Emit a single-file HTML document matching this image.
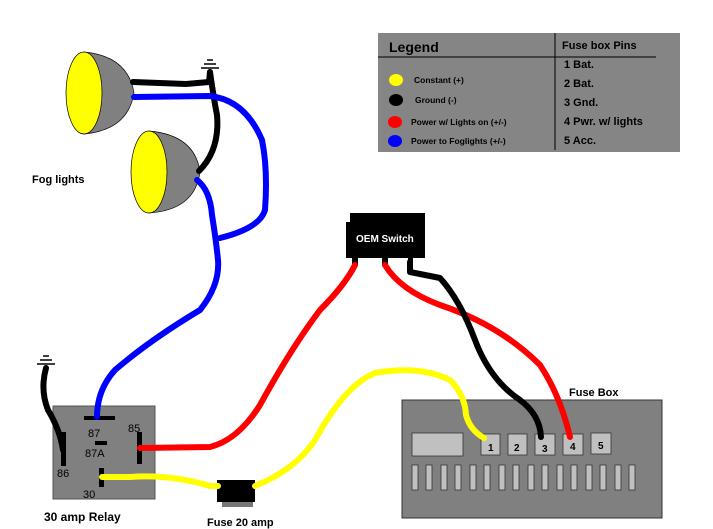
<!DOCTYPE html>
<html><head><meta charset="utf-8"><style>
html,body{margin:0;padding:0;background:#fff;}
svg{display:block;}
text{font-family:"Liberation Sans",sans-serif;}
.b{font-weight:bold;}
</style></head><body>
<svg width="713" height="529" viewBox="0 0 713 529" xmlns="http://www.w3.org/2000/svg">
<rect width="713" height="529" fill="#fff"/>
<!-- Legend -->
<rect x="378" y="33" width="302" height="119" fill="#858585"/>
<line x1="555" y1="33" x2="555" y2="150" stroke="#000" stroke-width="1"/>
<line x1="378" y1="57" x2="656" y2="57" stroke="#000" stroke-width="1"/>
<text x="389" y="52" class="b" font-size="14">Legend</text>
<text x="562" y="49" class="b" font-size="11">Fuse box Pins</text>
<g font-size="11" font-weight="bold">
<text x="564" y="68">1 Bat.</text>
<text x="564" y="87">2 Bat.</text>
<text x="564" y="106">3 Gnd.</text>
<text x="564" y="125">4 Pwr. w/ lights</text>
<text x="564" y="144">5 Acc.</text>
</g>
<g font-size="8.5" font-weight="bold">
<text x="414" y="83">Constant (+)</text>
<text x="415" y="103">Ground (-)</text>
<text x="411" y="125">Power w/ Lights on (+/-)</text>
<text x="411" y="144">Power to Foglights (+/-)</text>
</g>
<ellipse cx="396" cy="80" rx="7" ry="6" fill="#ffff00"/>
<ellipse cx="396" cy="100" rx="7" ry="6" fill="#000"/>
<ellipse cx="395" cy="122" rx="7" ry="6" fill="#f00"/>
<ellipse cx="395" cy="141" rx="7" ry="6" fill="#0000ff"/>

<!-- Fog lights -->
<path d="M84 52 Q128 56 134 93 Q128 130 84 134 Z" fill="#808080" stroke="#000" stroke-width="0.7"/>
<ellipse cx="84" cy="93" rx="18" ry="41" fill="#ffff00" stroke="#000" stroke-width="0.7"/>
<path d="M149 131 Q195 135 200 172 Q195 210 149 213 Z" fill="#808080" stroke="#000" stroke-width="0.7"/>
<ellipse cx="149" cy="172" rx="18" ry="41" fill="#ffff00" stroke="#000" stroke-width="0.7"/>
<text x="32" y="183" class="b" font-size="11">Fog lights</text>

<!-- Relay box -->
<rect x="53" y="406" width="102" height="93" fill="#808080" stroke="#555" stroke-width="1"/>
<g fill="#000">
<rect x="84" y="416" width="31" height="4"/>
<rect x="61" y="432" width="5" height="34"/>
<rect x="137" y="432" width="5" height="32"/>
<rect x="95" y="441" width="12" height="4"/>
<rect x="99" y="468" width="5" height="19"/>
</g>
<g font-size="11" fill="#000">
<text x="88" y="437">87</text><text x="128" y="432">85</text><text x="85" y="457">87A</text>
<text x="57" y="477">86</text><text x="83" y="498">30</text>
</g>
<text x="44" y="521" class="b" font-size="12">30 amp Relay</text>
<!-- Fuse -->
<rect x="217" y="480" width="38" height="22" fill="#000"/>
<rect x="222" y="502" width="31" height="5" fill="#777"/>
<text x="207" y="526" class="b" font-size="11">Fuse 20 amp</text>

<!-- OEM switch -->
<rect x="350" y="213" width="75" height="10" fill="#000"/>
<rect x="346" y="222" width="79" height="36" fill="#000"/>
<rect x="352" y="256" width="6" height="10" fill="#000"/>
<rect x="382" y="256" width="6" height="10" fill="#000"/>
<rect x="408" y="256" width="5" height="10" fill="#000"/>
<text x="356" y="242" class="b" font-size="10" fill="#fff">OEM Switch</text>

<!-- Fuse box -->
<text x="569" y="396" class="b" font-size="11">Fuse Box</text>
<rect x="402" y="400" width="260" height="118" fill="#808080" stroke="#333" stroke-width="1"/>
<rect x="412" y="433" width="51" height="23" fill="#c0c0c0" stroke="#333" stroke-width="0.8"/>
<g fill="#c0c0c0" stroke="#333" stroke-width="0.8">
<rect x="481" y="434" width="19" height="21"/><rect x="508" y="434" width="19" height="21"/>
<rect x="535" y="434" width="20" height="21"/><rect x="563" y="434" width="20" height="21"/>
<rect x="591" y="433" width="20" height="21"/>
</g>
<g font-size="10" font-weight="bold">
<text x="488" y="451">1</text><text x="514" y="451">2</text><text x="542" y="452">3</text><text x="570" y="450">4</text><text x="598" y="449">5</text>
</g>
<g fill="#c0c0c0" stroke="#333" stroke-width="0.8">
<rect x="412" y="465" width="6" height="25"/><rect x="426" y="465" width="6" height="25"/><rect x="441" y="465" width="6" height="25"/><rect x="455" y="465" width="6" height="25"/>
<rect x="470" y="465" width="6" height="25"/><rect x="484" y="465" width="6" height="25"/><rect x="499" y="465" width="6" height="25"/><rect x="513" y="465" width="6" height="25"/>
<rect x="528" y="465" width="6" height="25"/><rect x="542" y="465" width="6" height="25"/><rect x="557" y="465" width="6" height="25"/><rect x="571" y="465" width="6" height="25"/>
<rect x="586" y="465" width="6" height="25"/><rect x="600" y="465" width="6" height="25"/><rect x="615" y="465" width="6" height="25"/><rect x="629" y="465" width="6" height="25"/>
</g>

<!-- Wires on top -->
<g fill="none" stroke-linecap="round" stroke-linejoin="round" stroke-width="6">
<path d="M210 72 L209 82 L186 84 L133 82" stroke="#000"/>
<path d="M210 72 Q214 100 217 115 Q220 150 199 171" stroke="#000"/>
<path d="M46 368 Q40 390 48 410 Q60 430 63 450" stroke="#000"/>
<path d="M134 97 L210 96 Q245 100 262 140 Q268 170 265 210 Q260 228 220 238" stroke="#0000ff"/>
<path d="M197 180 Q210 190 212 215 Q216 240 218 260 Q220 285 200 310 Q150 340 115 370 Q97 390 97 417" stroke="#0000ff"/>
<path d="M140 448 L210 447 Q238 440 260 405 Q290 350 320 310 Q345 285 355 265" stroke="#f00"/>
<path d="M385 265 Q400 290 440 305 Q500 325 540 365 Q560 395 570 437" stroke="#f00"/>
<path d="M410 262 L410 272 L440 278 Q460 300 475 340 Q490 380 520 400 Q540 415 541 437" stroke="#000"/>
<path d="M102 477 L130 477 Q170 474 210 486 L218 486" stroke="#ffff00"/>
<path d="M255 486 Q295 470 315 440 Q345 385 375 373 Q420 365 450 380 Q465 395 466 415 Q470 430 484 438" stroke="#ffff00"/>
</g>
<g stroke="#000" stroke-width="1.5">
<line x1="201" y1="68" x2="219" y2="68"/><line x1="204" y1="64" x2="216" y2="64"/><line x1="207" y1="60" x2="213" y2="60"/>
<line x1="37" y1="364" x2="55" y2="364"/><line x1="40" y1="360" x2="52" y2="360"/><line x1="43" y1="356" x2="49" y2="356"/>
</g>
</svg>
</body></html>
